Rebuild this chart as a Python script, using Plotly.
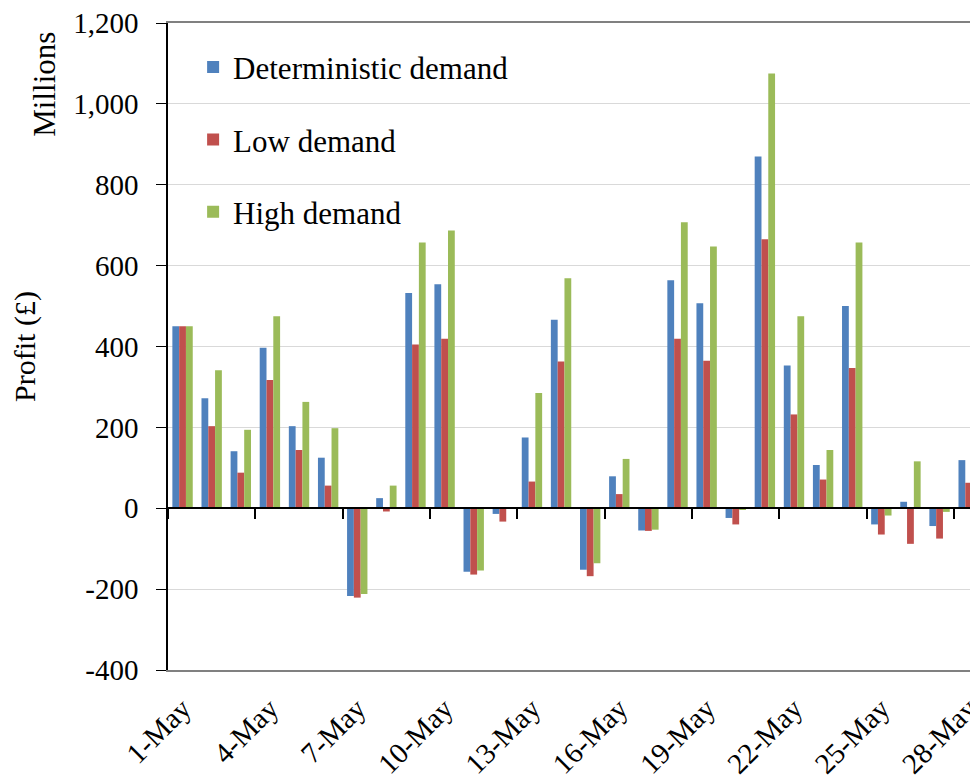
import plotly.graph_objects as go

days = [f"{d}-May" for d in range(1, 29)]
deterministic = [450, 272, 141, 397, 203, 125, -217, 25, 532, 554, -157, -14, 175, 466,
                 -152, 79, -55, 564, 507, -24, 870, 353, 107, 500, -40, 16, -44, 119]
low = [450, 203, 88, 317, 144, 56, -221, -8, 405, 419, -164, -33, 66, 363,
       -168, 35, -56, 419, 365, -40, 665, 232, 71, 347, -65, -88, -75, 63]
high = [450, 341, 194, 475, 263, 198, -212, 56, 657, 687, -154, 2, 285, 569,
        -136, 122, -53, 707, 647, -2, 1075, 475, 144, 657, -18, 116, -9, 176]
y_ticks = [-400, -200, 0, 200, 400, 600, 800, 1000, 1200]
y_labels = ["-400", "-200", "0", "200", "400", "600", "800", "1,000", "1,200"]

FONT = "Times New Roman, Liberation Serif, DejaVu Serif, serif"

fig = go.Figure()
for name, vals, col in [("Deterministic demand", deterministic, "#4F81BD"),
                        ("Low demand", low, "#C0504D"),
                        ("High demand", high, "#9BBB59")]:
    fig.add_trace(go.Bar(x=days, y=vals, name=name, marker_color=col,
                         marker_line_width=0, legendgroup=name))

# empty trace so the zero-level axis (x2) gets drawn
fig.add_trace(go.Scatter(x=[], y=[], xaxis="x2", showlegend=False, hoverinfo="skip"))

# page body has an 8px margin, so the figure is a bit smaller and margins shifted
fig.update_layout(
    width=970, height=775,
    margin=dict(l=160, r=0, t=15, b=113, autoexpand=False),
    plot_bgcolor="white", paper_bgcolor="white",
    font=dict(family=FONT, size=29, color="black"),
    barmode="group", bargap=0.3, bargroupgap=0,
    legend=dict(x=0.031, y=0.973, xanchor="left", yanchor="top",
                font=dict(size=31), tracegroupgap=29, traceorder="grouped",
                bgcolor="rgba(0,0,0,0)"),
    xaxis=dict(type="category", range=[-0.5, 27.32], automargin=False,
               tickvals=days[::3], ticktext=days[::3], tickangle=-45,
               ticks="", ticklabelstandoff=8, ticklabeloverflow="allow",
               showline=True, linecolor="#808080", linewidth=2, mirror=True,
               showgrid=False, tickfont=dict(size=29)),
    xaxis2=dict(overlaying="x", anchor="free", position=0.25, type="linear",
                range=[-0.5, 27.32], tickmode="array", automargin=False,
                tickvals=[i - 0.5 for i in range(0, 28, 3)],
                ticks="outside", ticklen=10, tickwidth=1.5, tickcolor="black",
                showticklabels=False, showline=True, linecolor="black",
                linewidth=1.5, showgrid=False, zeroline=False),
    yaxis=dict(range=[-400, 1200], tickmode="array", tickvals=y_ticks,
               ticktext=y_labels, automargin=False, ticklabeloverflow="allow",
               showline=True, linecolor="black", linewidth=1.5,
               ticks="outside", ticklen=10, tickcolor="black",
               ticklabelstandoff=12,
               gridcolor="#D9D9D9", zeroline=False,
               title=dict(text="Profit (£)", font=dict(size=30), standoff=33),
               tickfont=dict(size=29)),
    annotations=[dict(text="Millions", xref="paper", yref="paper",
                      x=-0.152, y=0.906, xanchor="center", yanchor="middle",
                      textangle=-90, showarrow=False, font=dict(size=31))],
)

fig.write_html("out.html")
